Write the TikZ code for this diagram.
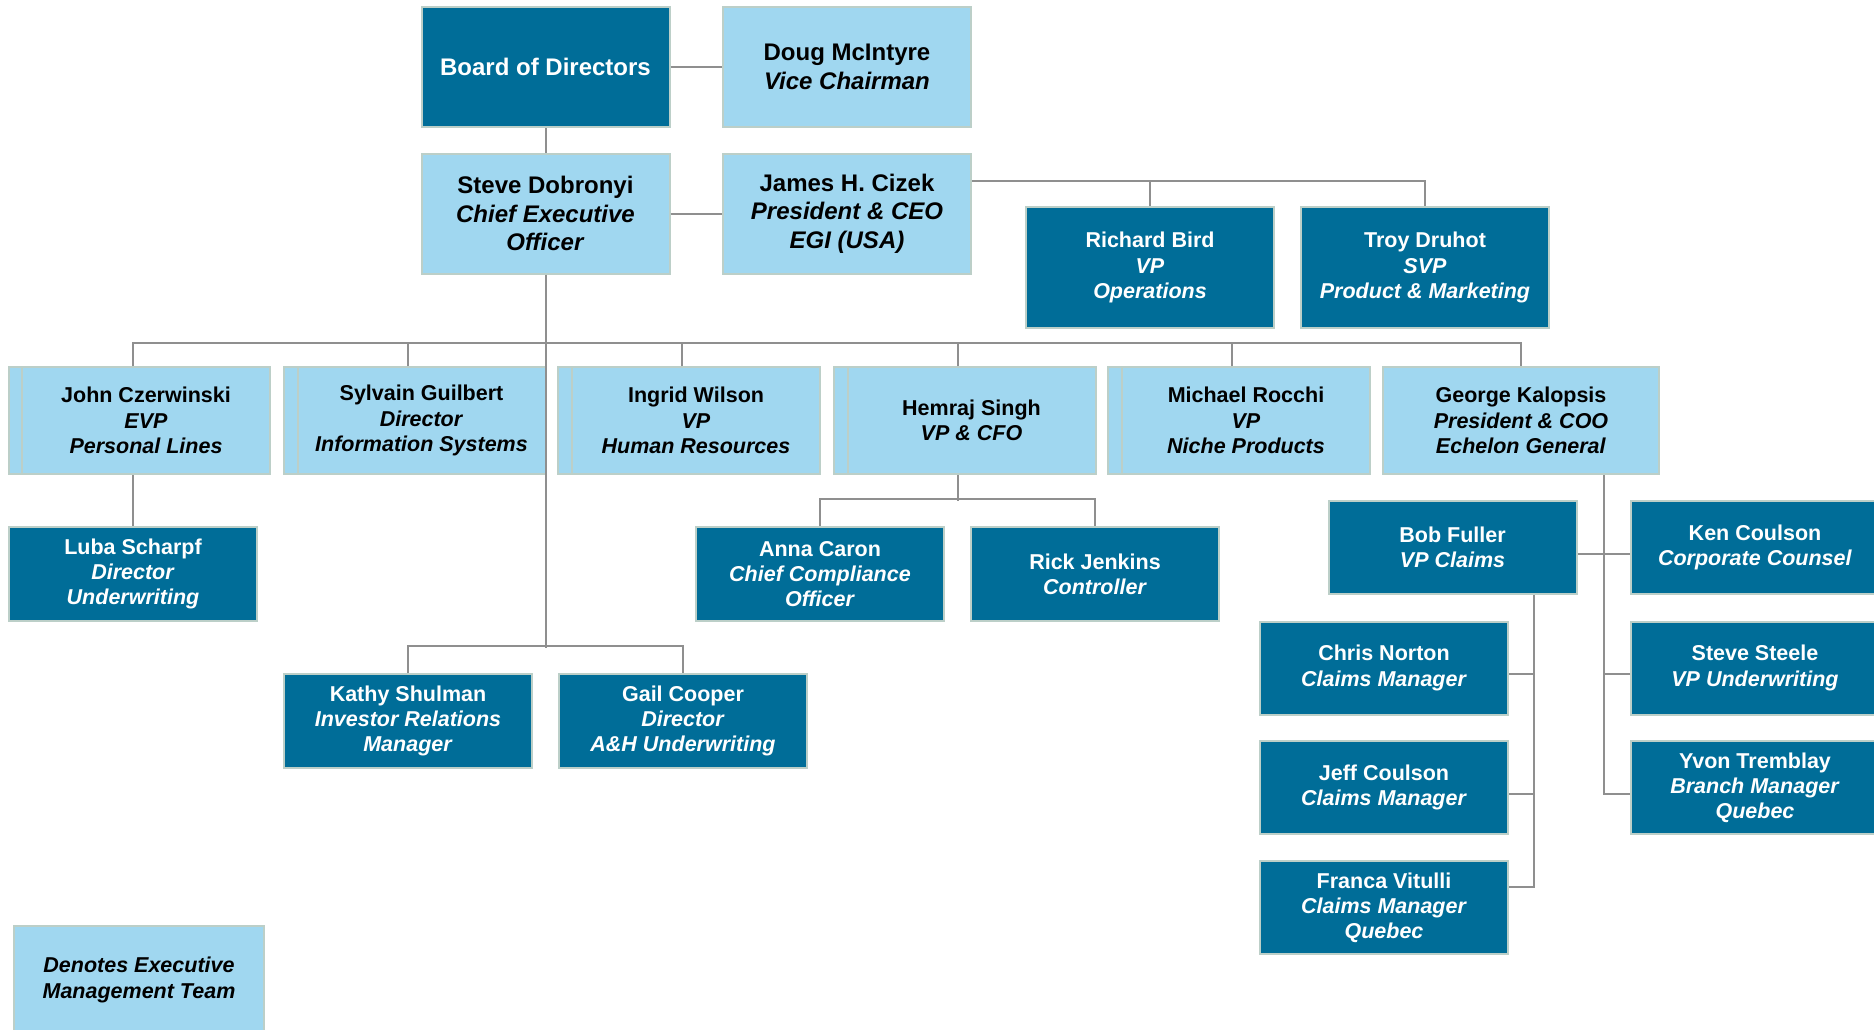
\documentclass[tikz,border=0pt]{standalone}
\usepackage{fontspec}
\setmainfont{Liberation Sans}
\definecolor{darkblue}{HTML}{006D98}
\definecolor{lightblue}{HTML}{A0D7F0}
\definecolor{boxedge}{HTML}{BCCFC8}
\definecolor{linkgray}{HTML}{8F8F8F}
\begin{document}
\begin{tikzpicture}[x=0.5pt,y=-0.5pt,
  box/.style={draw=boxedge,line width=1pt,minimum width=124pt,align=center,inner sep=0pt},
  topbox/.style={box,fill=lightblue,minimum height=60pt,font=\fontsize{12}{14.3}\selectfont\bfseries},
  exec/.style={box,fill=lightblue,minimum height=53.5pt,font=\fontsize{10.75}{12.6}\selectfont\bfseries},
  staff/.style={box,fill=darkblue,text=white,minimum height=47pt,font=\fontsize{10.75}{12.6}\selectfont\bfseries},
  link/.style={draw=linkgray,line width=1pt}]
\useasboundingbox (0,0) rectangle (1874,1029);
\clip (0,0) rectangle (1874,1029);
% top of the chart
\node[topbox,fill=darkblue,text=white] (board) at (545.5,67) {Board of Directors};
\node[topbox] (doug) at (847,67) {Doug McIntyre\\ \textit{Vice Chairman}};
\node[topbox] (steve) at (545.5,213.5) {Steve Dobronyi\\ \textit{Chief Executive}\\ \textit{Officer}};
\node[topbox] (james) at (847,213.5) {James H. Cizek\\ \textit{President \& CEO}\\ \textit{EGI (USA)}};
\node[staff,minimum height=60.5pt] (richard) at (1150,267.5) {Richard Bird\\ \textit{VP}\\ \textit{Operations}};
\node[staff,minimum height=60.5pt] (troy) at (1425,267.5) {Troy Druhot\\ \textit{SVP}\\ \textit{Product \& Marketing}};
% executive team
\node[exec] (johnb) at (133,420.5) {};
\node[exec] (john) at (146,420.5) {John Czerwinski\\ \textit{EVP}\\ \textit{Personal Lines}};
\node[exec] (sylvainb) at (408,420.5) {};
\node[exec] (sylvain) at (421.5,420.5) {Sylvain Guilbert\\ \textit{Director}\\ \textit{Information Systems}};
\node[exec] (ingridb) at (682,420.5) {};
\node[exec] (ingrid) at (696,420.5) {Ingrid Wilson\\ \textit{VP}\\ \textit{Human Resources}};
\node[exec] (hemrajb) at (958,420.5) {};
\node[exec] (hemraj) at (971.5,420.5) {Hemraj Singh\\ \textit{VP \& CFO}};
\node[exec] (michaelb) at (1232,420.5) {};
\node[exec] (michael) at (1246,420.5) {Michael Rocchi\\ \textit{VP}\\ \textit{Niche Products}};
\node[exec,minimum width=138pt] (george) at (1521,420.5) {George Kalopsis\\ \textit{President \& COO}\\ \textit{Echelon General}};
% reports
\node[staff] (luba) at (133,574) {Luba Scharpf\\ \textit{Director}\\ \textit{Underwriting}};
\node[staff] (anna) at (820,574) {Anna Caron\\ \textit{Chief Compliance}\\ \textit{Officer}};
\node[staff] (rick) at (1095,574) {Rick Jenkins\\ \textit{Controller}};
\node[staff] (kathy) at (408,721) {Kathy Shulman\\ \textit{Investor Relations}\\ \textit{Manager}};
\node[staff] (gail) at (683,721) {Gail Cooper\\ \textit{Director}\\ \textit{A\&H Underwriting}};
\node[staff,minimum height=46.5pt] (bob) at (1452.5,547.5) {Bob Fuller\\ \textit{VP Claims}};
\node[staff,minimum height=46.5pt] (ken) at (1755,547.5) {Ken Coulson\\ \textit{Corporate Counsel}};
\node[staff,minimum height=46.5pt] (chris) at (1384,668) {Chris Norton\\ \textit{Claims Manager}};
\node[staff,minimum height=46.5pt] (steele) at (1755,668) {Steve Steele\\ \textit{VP Underwriting}};
\node[staff,minimum height=46.5pt] (jeff) at (1384,787.5) {Jeff Coulson\\ \textit{Claims Manager}};
\node[staff,minimum height=46.5pt] (yvon) at (1755,787.5) {Yvon Tremblay\\ \textit{Branch Manager}\\ \textit{Quebec}};
\node[staff,minimum height=46.5pt] (franca) at (1384,907.5) {Franca Vitulli\\ \textit{Claims Manager}\\ \textit{Quebec}};
\node[exec,minimum width=125pt,minimum height=54pt,font=\fontsize{10.75}{12.6}\selectfont\bfseries\itshape] (legend) at (139,980) {Denotes Executive\\Management Team};
% connectors
\draw[link] (board.east) -- (doug.west);
\draw[link] (board.south) -- (steve.north);
\draw[link] (steve.east) -- (james.west);
\draw[link] ([yshift=16.25pt]james.east) -| (troy.north);
\draw[link] (richard.north) -- ++(0,-26);
\draw[link] (steve.south) -- ++(0,373);
\draw[link] (johnb.north) -- ++(0,-23) -| (george.north);
\foreach \n in {sylvainb,ingridb,hemrajb,michaelb}
  \draw[link] (\n.north) -- ++(0,-23);
\draw[link] (johnb.south) -- (luba.north);
\draw[link] (kathy.north) -- ++(0,-27) -| (gail.north);
\draw[link] (hemrajb.south) -- ++(0,26);
\draw[link] (anna.north) -- ++(0,-27) -| (rick.north);
\draw[link] ([xshift=41.5pt]george.south) |- ([yshift=-3.25pt]yvon.west);
\draw[link] ([yshift=-3.25pt]bob.east) -- ([yshift=-3.25pt]ken.west);
\draw[link] ([yshift=-3pt]steele.west) -- ++(-27,0);
\draw[link] ([xshift=40.75pt]bob.south) |- ([yshift=10.25pt]franca.east);
\foreach \n in {chris,jeff}
  \draw[link] ([yshift=-3pt]\n.east) -- ++(26,0);
\end{tikzpicture}
\end{document}
